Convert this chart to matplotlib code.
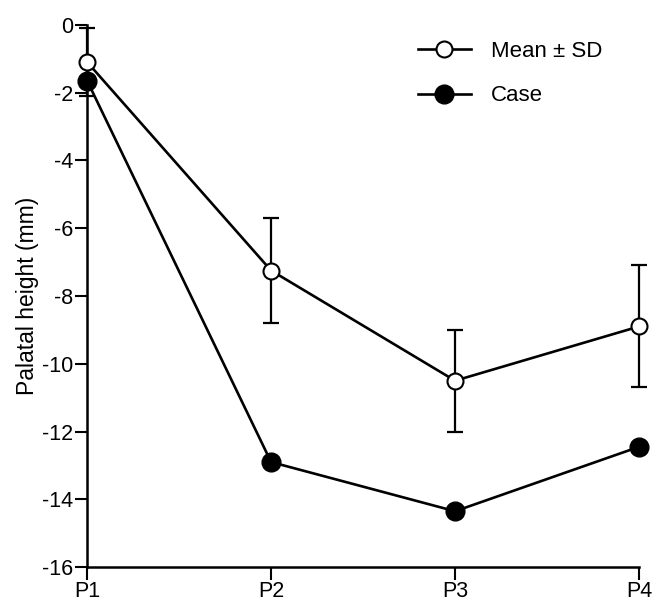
import matplotlib.pyplot as plt
import numpy as np

plt.rcParams['font.family'] = ['Liberation Sans', 'DejaVu Sans']
plt.rcParams['axes.unicode_minus'] = False

# data
positions = ['P1', 'P2', 'P3', 'P4']
mean_height = [-1.1, -7.25, -10.5, -8.9]
sd_height = [1.0, 1.55, 1.5, 1.8]
case_height = [-1.65, -12.9, -14.35, -12.45]

fig = plt.figure(figsize=(6.65, 6.04), dpi=100)
ax = fig.add_axes([0.131, 0.061, 0.830, 0.898])

x = np.arange(len(positions))

ax.errorbar(x, mean_height, yerr=sd_height, fmt='none', ecolor='black',
            elinewidth=1.6, capsize=6, capthick=1.6, zorder=2)
ax.plot(x, mean_height, color='black', lw=1.9, marker='o', ms=11.5,
        mfc='white', mec='black', mew=1.5, label='Mean \u00b1 SD', zorder=3)
ax.plot(x, case_height, color='black', lw=1.9, marker='o', ms=13.5,
        mfc='black', mec='black', label='Case', zorder=3)

ax.set_xlim(0, 3)
ax.set_ylim(-16, 0)
ax.set_xticks(x)
ax.set_xticklabels(positions)
ax.set_yticks(np.arange(-16, 1, 2))
ax.tick_params(direction='out', length=9, width=1.5, labelsize=15.5, pad=1)
ax.set_ylabel('Palatal height (mm)', fontsize=16.5, labelpad=2)

for s in ['top', 'right']:
    ax.spines[s].set_visible(False)
for s in ['left', 'bottom']:
    ax.spines[s].set_linewidth(1.8)

for c in ax.collections + ax.lines:
    c.set_clip_on(False)

leg = ax.legend(loc='upper right', bbox_to_anchor=(0.97, 1.007), frameon=False,
                fontsize=16, handlelength=2.4, labelspacing=1.05, handletextpad=0.9)

fig.savefig('out.png', dpi=100)
